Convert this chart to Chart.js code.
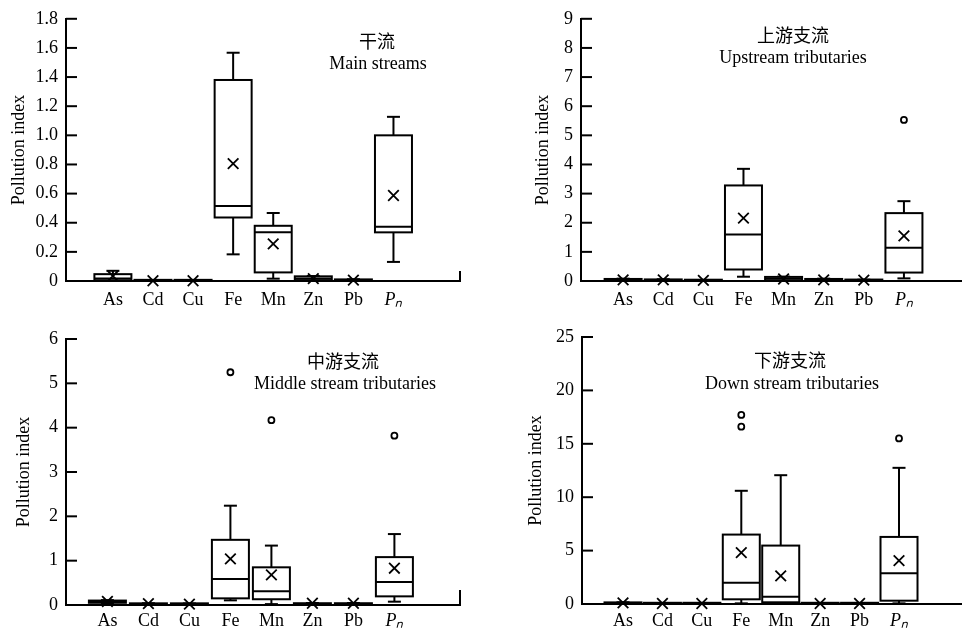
<!DOCTYPE html>
<html>
<head>
<meta charset="utf-8">
<script src="https://cdn.jsdelivr.net/npm/chart.js@4.4.0/dist/chart.umd.min.js"></script>
<style>
  body { margin: 0; background: #fff; }
  #wrap { position: relative; width: 971px; height: 632px; overflow: hidden; }
  .panel { position: absolute; }
</style>
</head>
<body>
<div id="wrap">
  <div class="panel" style="left:0;top:0"><canvas id="c1" width="485" height="312"></canvas></div>
  <div class="panel" style="left:485px;top:0"><canvas id="c2" width="486" height="312"></canvas></div>
  <div class="panel" style="left:0;top:312px"><canvas id="c3" width="485" height="320"></canvas></div>
  <div class="panel" style="left:485px;top:312px"><canvas id="c4" width="486" height="320"></canvas></div>
</div>
<script>
// ===================== DATA =====================

const categories = ['As', 'Cd', 'Cu', 'Fe', 'Mn', 'Zn', 'Pb', 'Pₙ'];

// 干流 Main streams
const mainMin    = [0.002, 0, 0, 0.183, 0.016, 0.004, 0.001, 0.131];
const mainQ1     = [0.005, 0.001, 0.001, 0.436, 0.059, 0.006, 0.002, 0.334];
const mainMedian = [0.018, 0.002, 0.002, 0.515, 0.334, 0.018, 0.005, 0.373];
const mainQ3     = [0.047, 0.004, 0.004, 1.38, 0.379, 0.032, 0.011, 1.0];
const mainMax    = [0.07, 0.005, 0.005, 1.567, 0.467, 0.034, 0.012, 1.127];
const mainMean   = [0.034, 0.002, 0.002, 0.806, 0.255, 0.016, 0.006, 0.587];
const mainOutliers = [[], [], [], [], [], [], [], []];
const mainTicks  = [0, 0.2, 0.4, 0.6, 0.8, 1.0, 1.2, 1.4, 1.6, 1.8];

// 上游支流 Upstream tributaries
const upMin    = [0.01, 0.01, 0.005, 0.147, 0.01, 0.01, 0.01, 0.09];
const upQ1     = [0.02, 0.02, 0.01, 0.395, 0.02, 0.02, 0.015, 0.29];
const upMedian = [0.03, 0.03, 0.015, 1.60, 0.08, 0.03, 0.02, 1.14];
const upQ3     = [0.07, 0.05, 0.03, 3.28, 0.14, 0.07, 0.04, 2.33];
const upMax    = [0.08, 0.06, 0.035, 3.85, 0.15, 0.08, 0.045, 2.74];
const upMean   = [0.04, 0.04, 0.02, 2.16, 0.07, 0.04, 0.03, 1.55];
const upOutliers = [[], [], [], [], [], [], [], [5.53]];
const upTicks  = [0, 1, 2, 3, 4, 5, 6, 7, 8, 9];

// 中游支流 Middle stream tributaries
const midMin    = [0.04, 0.01, 0.01, 0.105, 0.02, 0.01, 0.01, 0.075];
const midQ1     = [0.05, 0.015, 0.015, 0.15, 0.13, 0.015, 0.015, 0.195];
const midMedian = [0.08, 0.02, 0.02, 0.585, 0.31, 0.02, 0.02, 0.52];
const midQ3     = [0.10, 0.035, 0.03, 1.47, 0.85, 0.04, 0.04, 1.08];
const midMax    = [0.11, 0.04, 0.035, 2.24, 1.34, 0.045, 0.045, 1.6];
const midMean   = [0.08, 0.03, 0.02, 1.04, 0.68, 0.04, 0.04, 0.83];
const midOutliers = [[], [], [], [5.25], [4.17], [], [], [3.82]];
const midTicks  = [0, 1, 2, 3, 4, 5, 6];

// 下游支流 Down stream tributaries
const downMin    = [0.02, 0.01, 0.01, 0.06, 0.06, 0.01, 0.01, 0.06];
const downQ1     = [0.05, 0.02, 0.02, 0.44, 0.16, 0.02, 0.02, 0.31];
const downMedian = [0.08, 0.04, 0.04, 2.0, 0.69, 0.03, 0.03, 2.88];
const downQ3     = [0.15, 0.08, 0.08, 6.5, 5.47, 0.05, 0.05, 6.28];
const downMax    = [0.16, 0.09, 0.09, 10.6, 12.06, 0.06, 0.06, 12.75];
const downMean   = [0.1, 0.05, 0.05, 4.81, 2.63, 0.05, 0.05, 4.06];
const downOutliers = [[], [], [], [16.6, 17.7], [], [], [], [15.5]];
const downTicks  = [0, 5, 10, 15, 20, 25];

// ===================== DRAWING =====================

const FONT = "'Liberation Serif', 'Times New Roman', 'Noto Sans CJK SC', serif";

// box, whisker, median, inner y ticks and panel captions
const boxPlugin = {
  id: 'boxes',
  beforeDatasetsDraw(chart, args, opts) {
    const { ctx, chartArea } = chart;
    const xs = chart.scales.x, ys = chart.scales.y;
    const s = opts.stats;
    const line = (x1, y1, x2, y2) => {
      ctx.beginPath(); ctx.moveTo(x1, y1); ctx.lineTo(x2, y2); ctx.stroke();
    };
    ctx.save();
    ctx.strokeStyle = '#000';
    ctx.lineWidth = 2;

    ys.ticks.forEach(t => {
      const y = ys.getPixelForValue(t.value);
      line(chartArea.left, y, chartArea.left + 11, y);
    });
    if (opts.endMark) {
      line(chartArea.right, chartArea.bottom, chartArea.right, chartArea.bottom - opts.endMark);
    }

    const half = 18.5, cap = 6.5;
    s.median.forEach((m, i) => {
      const x = xs.getPixelForValue(i + 1);
      const yMin = ys.getPixelForValue(s.min[i]);
      const yQ1 = ys.getPixelForValue(s.q1[i]);
      const yMed = ys.getPixelForValue(m);
      const yQ3 = ys.getPixelForValue(s.q3[i]);
      const yMax = ys.getPixelForValue(s.max[i]);

      line(x, yQ3, x, yMax);
      line(x - cap, yMax, x + cap, yMax);
      line(x, yQ1, x, yMin);
      line(x - cap, yMin, x + cap, yMin);

      let top = yQ3, h = yQ1 - yQ3;
      if (h < 1) { top = yQ1 - 1; h = 1; }
      ctx.fillStyle = '#fff';
      ctx.fillRect(x - half, top, half * 2, h);
      ctx.strokeRect(x - half, top, half * 2, h);
      line(x - half, yMed, x + half, yMed);
    });
    ctx.restore();
  },
  afterDraw(chart, args, opts) {
    const ctx = chart.ctx;
    ctx.save();
    ctx.fillStyle = '#000';
    ctx.textAlign = 'center';
    ctx.textBaseline = 'middle';
    ctx.font = '18px ' + FONT;
    opts.captions.forEach(c => ctx.fillText(c.text, c.x, c.y));
    ctx.restore();
  }
};

function makeChart(id, stats, p) {
  const means = stats.mean.map((v, i) => ({ x: i + 1, y: v }));
  const outs = [];
  stats.outliers.forEach((arr, i) => arr.forEach(v => outs.push({ x: i + 1, y: v })));

  new Chart(document.getElementById(id), {
    type: 'scatter',
    data: {
      datasets: [
        {
          data: means,
          pointStyle: 'crossRot',
          radius: 7.5,
          borderColor: '#000',
          backgroundColor: '#000',
          borderWidth: 1.8,
          clip: false,
        },
        {
          data: outs,
          pointStyle: 'circle',
          radius: 3,
          borderColor: '#000',
          backgroundColor: '#fff',
          borderWidth: 1.8,
          clip: false,
        },
      ],
    },
    options: {
      responsive: false,
      animation: false,
      events: [],
      layout: { padding: { top: p.top, right: p.right, left: 0, bottom: 0 } },
      plugins: {
        legend: { display: false },
        tooltip: { enabled: false },
        boxes: { stats: stats, endMark: p.endMark, captions: p.captions },
      },
      scales: {
        x: {
          type: 'linear',
          min: p.xMin,
          max: p.xMax,
          grid: { display: false, drawTicks: false },
          border: { display: true, color: '#000', width: 2 },
          afterBuildTicks: a => { a.ticks = categories.map((c, i) => ({ value: i + 1 })); },
          afterFit: s => { s.height = p.h - p.bottom; },
          ticks: {
            autoSkip: false,
            maxRotation: 0,
            padding: p.xPad,
            color: '#000',
            font: ctx => ({
              family: FONT,
              size: 18,
              style: ctx.tick && ctx.tick.value === 8 ? 'italic' : 'normal',
            }),
            callback: v => categories[v - 1] || '',
          },
        },
        y: {
          type: 'linear',
          min: 0,
          max: p.ticks[p.ticks.length - 1],
          grid: { display: false, drawTicks: false },
          border: { display: true, color: '#000', width: 2 },
          afterBuildTicks: a => { a.ticks = p.ticks.map(v => ({ value: v })); },
          afterFit: s => { s.width = p.left; },
          ticks: {
            padding: 8,
            color: '#000',
            font: { family: FONT, size: 18 },
            callback: v => (p.decimals && v !== 0 ? v.toFixed(1) : String(v)),
          },
          title: {
            display: true,
            text: 'Pollution index',
            color: '#000',
            font: { family: FONT, size: 18 },
            padding: { top: p.titlePad, bottom: 0 },
          },
        },
      },
    },
    plugins: [boxPlugin],
  });
}

makeChart('c1',
  { min: mainMin, q1: mainQ1, median: mainMedian, q3: mainQ3, max: mainMax, mean: mainMean, outliers: mainOutliers },
  { h: 312, left: 66, top: 15, bottom: 281, right: 25, xMin: -0.17, xMax: 9.66, xPad: 8,
    ticks: mainTicks, decimals: true, titlePad: 8, endMark: 10,
    captions: [{ text: '干流', x: 377, y: 43 }, { text: 'Main streams', x: 378, y: 64 }] });

makeChart('c2',
  { min: upMin, q1: upQ1, median: upMedian, q3: upQ3, max: upMax, mean: upMean, outliers: upOutliers },
  { h: 312, left: 96, top: 15, bottom: 281, right: 0, xMin: -0.05, xMax: 9.44, xPad: 8,
    ticks: upTicks, decimals: false, titlePad: 47, endMark: 0,
    captions: [{ text: '上游支流', x: 308, y: 37 }, { text: 'Upstream tributaries', x: 308, y: 58 }] });

makeChart('c3',
  { min: midMin, q1: midQ1, median: midMedian, q3: midQ3, max: midMax, mean: midMean, outliers: midOutliers },
  { h: 320, left: 66, top: 27, bottom: 293, right: 25, xMin: -0.01, xMax: 9.6, xPad: 5,
    ticks: midTicks, decimals: false, titlePad: 13, endMark: 15,
    captions: [{ text: '中游支流', x: 343, y: 51 }, { text: 'Middle stream tributaries', x: 345, y: 72 }] });

makeChart('c4',
  { min: downMin, q1: downQ1, median: downMedian, q3: downQ3, max: downMax, mean: downMean, outliers: downOutliers },
  { h: 320, left: 97, top: 25, bottom: 292, right: 0, xMin: -0.04, xMax: 9.59, xPad: 6,
    ticks: downTicks, decimals: false, titlePad: 40, endMark: 0,
    captions: [{ text: '下游支流', x: 305, y: 50 }, { text: 'Down stream tributaries', x: 307, y: 72 }] });
</script>
</body>
</html>
